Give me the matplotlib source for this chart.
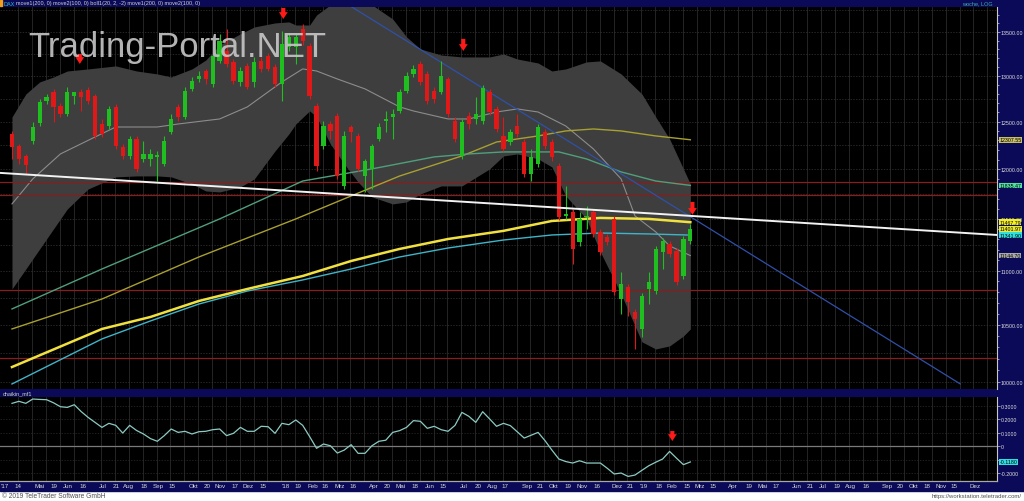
import numpy as np
import matplotlib.pyplot as plt
from matplotlib.patches import Rectangle
from matplotlib.ticker import FixedLocator, FuncFormatter, NullFormatter
from matplotlib.transforms import blended_transform_factory

plt.rcParams['font.family'] = ['Liberation Sans', 'DejaVu Sans']

W = 1024; H = 502

# DAX weekly candles, week 0 = early April 2017
opens = [12369, 12242, 12138, 12295, 12486, 12725, 12823, 12670, 12583, 12779,
         12823, 12845, 12779, 12475, 12454, 12659, 12232, 12138, 12316, 12107,
         12107, 12128, 12055, 12390, 12659, 12551, 12856, 12966, 13055, 12911,
         13168, 13281, 13157, 12933, 13112, 12933, 13168, 13224, 13100, 12911,
         13327, 13327, 13534, 13338, 12670, 12242, 12475, 12562, 11830, 12443,
         12348, 11932, 12004, 12316, 12508, 12551, 12616, 12834, 13022, 13134,
         13022, 12834, 12823, 12966, 12508, 12138, 12562, 12529, 12508, 12823,
         12637, 12348, 12284, 12454, 12284, 11953, 12055, 12390, 12284, 12035,
         11530, 11569, 11275, 11520, 11569, 11373, 11324, 11500, 10737, 10848,
         10618, 10465, 10830, 10811, 11179, 11256, 11189, 10951, 11285]
highs = [12401, 12263, 12159, 12497, 12746, 12801, 12856, 12703, 12878, 12823,
         12856, 12878, 12801, 12529, 12670, 12692, 12263, 12348, 12348, 12295,
         12211, 12190, 12348, 12583, 12692, 12878, 12988, 13055, 13078, 13247,
         13476, 13534, 13190, 13100, 13145, 13213, 13213, 13258, 13134, 13511,
         13488, 13476, 13592, 13373, 12703, 12508, 12508, 12594, 12401, 12465,
         12380, 12107, 12263, 12486, 12616, 12637, 12856, 13045, 13123, 13168,
         13055, 12878, 13168, 12988, 12551, 12529, 12605, 12768, 12900, 12856,
         12670, 12551, 12422, 12583, 12316, 12211, 12475, 12422, 12316, 12066,
         11830, 11599, 11569, 11629, 11599, 11402, 11353, 11530, 10989, 10876,
         10646, 10792, 10989, 11237, 11314, 11285, 11218, 11333, 11451]
lows = [12107, 12055, 11953, 12263, 12454, 12692, 12497, 12551, 12562, 12692,
        12616, 12692, 12316, 12337, 12422, 12211, 12107, 12107, 11973, 12076,
        12035, 11881, 12035, 12369, 12508, 12529, 12834, 12933, 12911, 12878,
        13145, 13100, 12911, 12889, 12856, 12878, 13045, 13055, 12878, 12725,
        13281, 13134, 13350, 12746, 11983, 12211, 12316, 11901, 11799, 12284,
        11983, 11769, 11799, 12295, 12390, 12316, 12594, 12812, 12988, 12900,
        12692, 12703, 12801, 12551, 12284, 12107, 12422, 12475, 12475, 12572,
        12390, 12190, 12253, 12337, 11922, 11881, 12024, 12211, 12086, 11490,
        11500, 11064, 11237, 11402, 11324, 11150, 11246, 10774, 10600, 10582,
        10287, 10394, 10691, 10783, 11017, 11131, 10867, 10923, 11256]
closes = [12232, 12107, 12045, 12443, 12714, 12768, 12659, 12583, 12823, 12823,
          12768, 12725, 12348, 12369, 12637, 12242, 12138, 12316, 12004, 12159,
          12159, 12149, 12295, 12529, 12551, 12834, 12944, 13000, 12966, 13224,
          13396, 13134, 12944, 13055, 12878, 13157, 13078, 13078, 12911, 13361,
          13442, 13442, 13396, 12779, 12035, 12454, 12401, 11932, 12348, 12390,
          12004, 12086, 12242, 12443, 12529, 12583, 12823, 13000, 13078, 12933,
          12725, 12746, 13000, 12583, 12316, 12497, 12475, 12583, 12867, 12605,
          12422, 12211, 12390, 12369, 11953, 12128, 12443, 12242, 12128, 11520,
          11549, 11208, 11500, 11530, 11353, 11179, 11275, 10802, 10876, 10710,
          10555, 10765, 10895, 11208, 11285, 11160, 10895, 11304, 11401.97]

# Bollinger band (20, 2)
band_k = [0, 2, 4, 6, 8, 11, 15, 18, 21, 23, 26, 28, 30, 33, 35, 38, 40, 41, 43, 44, 46,
          48, 50, 52, 55, 57, 59, 62, 65, 69, 71, 73, 76, 78, 80, 83, 85, 88, 91, 93, 95, 97, 98]
band_hi = [12550, 12800, 12933, 12988, 13055, 13078, 13112, 13055, 13022, 12988, 13078,
           13178, 13350, 13477, 13557, 13604, 13616, 13580, 13580, 13697, 13817, 13877,
           13877, 13817, 13650, 13442, 13304, 13235, 13213, 13213, 13247, 13190, 13145,
           13055, 13078, 13157, 13168, 13022, 12800, 12550, 12316, 12004, 11850]
band_lo = [10830, 11017, 11208, 11402, 11599, 11799, 11922, 11932, 11932, 11922, 11850,
           11779, 11769, 11820, 11901, 12190, 12369, 12475, 12616, 12551, 12263, 12055,
           11870, 11719, 11649, 11669, 11749, 11830, 11830, 12004, 12138, 12159, 12107,
           12024, 11729, 11500, 11179, 10783, 10350, 10287, 10314, 10402, 10465]
mid_k = [0, 3, 7, 12, 15, 21, 24, 30, 34, 39, 42, 44, 47, 51, 56, 58, 63, 66, 70, 73,
         76, 80, 84, 88, 90, 93, 95, 98]
mid = [11649, 11901, 12159, 12337, 12443, 12443, 12475, 12529, 12659, 12933, 13078, 13055,
       12966, 12856, 12659, 12615, 12529, 12529, 12604, 12637, 12604, 12454, 12211, 11901,
       11530, 11373, 11237, 11144.70]

# moving averages
ma_k = [0, 13, 20, 27, 34, 42, 49, 56, 63, 71, 78, 85, 92, 98]
ma200 = [10129, 10465, 10573, 10719, 10830, 10951, 11093, 11208, 11304, 11383, 11480, 11510, 11500, 11467.79]
ma100 = [9983, 10376, 10537, 10691, 10811, 10914, 11017, 11131, 11217, 11294, 11343, 11362, 11353, 11341.90]
olive_k = [0, 13, 27, 41, 49, 56, 65, 70, 76, 80, 84, 88, 93, 98]
olive = [10465, 10737, 11131, 11500, 11729, 11931, 12138, 12284, 12348, 12401, 12422, 12401, 12348, 12307.55]
teal_k = [0, 13, 30, 42, 52, 61, 66, 71, 79, 83, 88, 93, 98]
teal = [10646, 11017, 11500, 11880, 12004, 12128, 12159, 12180, 12180, 12107, 11973, 11880, 11835.47]

# trend lines and levels
white_k = [-1.73, 142.3]
white_v = [11963, 11343]
blue_k = [49.1, 137]
blue_v = [13791, 9983]
red_levels = [11870, 11739, 10821, 10208]

# arrows
arrow_k = [9.8, 39.2, 65.2, 98.3]
arrow_tip = [13134, 13650, 13281, 11540]
arrow_tail = [13247, 13780, 13419, 11669]

# Chaikin money flow
cmf = [0.316, 0.331, 0.316, 0.348, 0.345, 0.343, 0.320, 0.291, 0.286, 0.306,
       0.255, 0.212, 0.175, 0.138, 0.168, 0.153, 0.096, 0.153, 0.115, 0.089,
       0.055, 0.035, 0.077, 0.126, 0.101, 0.109, 0.089, 0.106, 0.109, 0.121,
       0.126, 0.077, 0.094, 0.138, 0.109, 0.109, 0.146, 0.143, 0.094, 0.168,
       0.158, 0.193, 0.153, 0.070, -0.017, 0.015, 0.002, -0.052, -0.030, 0.010,
       -0.054, -0.054, 0.002, 0.035, 0.043, 0.101, 0.114, 0.138, 0.188, 0.183,
       0.131, 0.146, 0.121, 0.109, 0.153, 0.249, 0.220, 0.175, 0.254, 0.201,
       0.146, 0.168, 0.151, 0.105, 0.059, 0.080, 0.101, 0.040, -0.030, -0.096,
       -0.115, -0.126, -0.109, -0.126, -0.126, -0.126, -0.165, -0.207, -0.200, -0.225,
       -0.215, -0.180, -0.146, -0.120, -0.096, -0.040, -0.090, -0.138, -0.118]
cmf_arrow = [95.4, 0.037, 0.111]

price_ticks = [10000, 10500, 11000, 11500, 12000, 12500, 13000, 13500]
cmf_ticks = [0.3, 0.2, 0.1, 0, -0.1, -0.2]
price_tags = ['12307.55', '11835.47', '11467.79', '11401.97', '11341.90', '11144.70']
tag_colors = ['#c8c060', '#50e0a0', '#f4f020', '#e8e838', '#30e0e0', '#a8a8a8']

tick_k = [-1.0, 0.9, 4.0, 6.1, 8.1, 10.3, 13.1, 15.0, 16.9, 19.1, 21.1, 23.1, 26.2, 28.2, 30.1,
          32.2, 34.1, 36.3, 39.5, 41.3, 43.5, 45.2, 47.4, 49.3, 52.2, 54.2, 56.1, 58.2, 60.3,
          62.3, 65.2, 67.3, 69.4, 71.2, 74.4, 76.3, 78.2, 80.3, 82.4, 84.5, 87.4, 89.3, 91.3,
          93.4, 95.4, 97.5, 99.4, 101.3, 104.2, 106.4, 108.4, 110.3, 113.4, 115.3, 117.2,
          119.2, 121.2, 123.3, 126.4, 128.3, 130.2, 132.2, 134.2, 136.1, 139.2]
tick_lbl = ["'17", '14', 'Mai', '19', 'Jun', '16', 'Jul', '21', 'Aug', '18', 'Sep', '15',
            'Okt', '20', 'Nov', '17', 'Dez', '15', "'18", '19', 'Feb', '16', 'Mrz', '16',
            'Apr', '20', 'Mai', '18', 'Jun', '15', 'Jul', '20', 'Aug', '17', 'Sep', '21',
            'Okt', '19', 'Nov', '16', 'Dez', '21', "'19", '18', 'Feb', '15', 'Mrz', '15',
            'Apr', '19', 'Mai', '17', 'Jun', '21', 'Jul', '19', 'Aug', '16', 'Sep', '20',
            'Okt', '18', 'Nov', '15', 'Dez']

navy = '#0a0a58'
axcol = '#c8c8c8'
lab_fs = 3.8


def box(x0, y0, x1, y1):
    # pixel box (from top-left) -> figure fraction
    return [x0 / W, 1 - y1 / H, (x1 - x0) / W, (y1 - y0) / H]


fig = plt.figure(figsize=(W / 100, H / 100), dpi=100)
fig.patch.set_facecolor('white')
fig.add_artist(Rectangle((0, 1 - 492 / H), 1, 492 / H, transform=fig.transFigure,
                         color=navy, zorder=-1))

ax = fig.add_axes(box(0, 8, 997, 390))
ax2 = fig.add_axes(box(0, 398, 997, 482))

for a in (ax, ax2):
    a.set_facecolor('black')
    a.set_xlim(-1.73, 142.3)
    for s in ('left', 'top', 'bottom'):
        a.spines[s].set_visible(False)
    a.spines['right'].set_color(axcol)
    a.spines['right'].set_linewidth(0.8)
    for g in np.arange(0.9, 142.3, 2):
        a.axvline(g, color='#2a2a2a', lw=0.6, zorder=0.5)

# ---- main price panel ----
ax.set_yscale('log')
ax.set_ylim(9940, 13791)
for lv in range(10000, 13751, 250):
    ax.axhline(lv, color='#363636', lw=0.5, ls=(0, (2, 2)), zorder=0.5)

ax.fill_between(band_k, band_lo, band_hi, color='#3e3e3e', lw=0, zorder=1)
ax.plot(mid_k, mid, color='#8c8c8c', lw=0.8, zorder=2)
for lv in red_levels:
    ax.axhline(lv, color='#8a1c1c', lw=0.9, zorder=2.5)
ax.plot(olive_k, olive, color='#a8a030', lw=1.0, zorder=3)
ax.plot(teal_k, teal, color='#4f9f7c', lw=1.0, zorder=3)
ax.plot(ma_k, ma100, color='#3fb4c8', lw=1.0, zorder=3)
ax.plot(ma_k, ma200, color='#f0e040', lw=1.8, zorder=3.2)
ax.plot(blue_k, blue_v, color='#3050a8', lw=0.9, zorder=3.4)

o = np.array(opens, dtype=float); c = np.array(closes, dtype=float)
hi = np.array(highs, dtype=float); lo = np.array(lows, dtype=float)
k = np.arange(len(o))
col = np.where(c >= o, '#1fbf1f', '#e01818')
ax.vlines(k, lo, hi, colors=col, lw=0.8, zorder=4)
ax.bar(k, np.maximum(np.abs(c - o), 12), bottom=np.minimum(o, c), width=0.62,
       color=col, lw=0, zorder=5)

ax.plot(white_k, white_v, color='#f2f2f2', lw=1.4, zorder=7)

arrow_style = 'simple,head_width=0.9,head_length=0.7,tail_width=0.42'
for ak, tip, tail in zip(arrow_k, arrow_tip, arrow_tail):
    ax.annotate('', xy=(ak, tip), xytext=(ak, tail), annotation_clip=False, zorder=9,
                arrowprops=dict(arrowstyle=arrow_style, fc='#ff1a1a', ec='none',
                                mutation_scale=7, shrinkA=0, shrinkB=0))

ax.yaxis.tick_right()
ax.yaxis.set_major_locator(FixedLocator(price_ticks))
ax.yaxis.set_minor_locator(FixedLocator(list(range(10000, 13800, 100))))
ax.yaxis.set_major_formatter(FuncFormatter(lambda v, p: f'{v:.2f}'))
ax.yaxis.set_minor_formatter(NullFormatter())
ax.tick_params(axis='y', which='both', colors=axcol, labelcolor='#e0e0e0',
               labelsize=lab_fs, width=0.5, pad=0.8)
ax.tick_params(axis='y', which='major', length=2)
ax.tick_params(axis='y', which='minor', length=1.2)
ax.tick_params(axis='x', bottom=False, labelbottom=False)

tr = blended_transform_factory(ax.transAxes, ax.transData)
for s, cl in zip(price_tags, tag_colors):
    ax.text(1.0025, float(s), s, transform=tr, fontsize=lab_fs, color='black',
            va='center', ha='left', zorder=10, clip_on=False,
            bbox=dict(boxstyle='square,pad=0.05', fc=cl, ec='none'))

# ---- Chaikin money flow panel ----
ax2.set_ylim(-0.259, 0.363)
for lv in cmf_ticks:
    if lv != 0:
        ax2.axhline(lv, color='#2c2c2c', lw=0.5, ls=(0, (2, 2)), zorder=0.5)
ax2.axhline(0, color='#7a7a7a', lw=0.9, zorder=1)
ax2.plot(k, cmf, color='#8ccac2', lw=0.9, zorder=3)
ax2.annotate('', xy=(cmf_arrow[0], cmf_arrow[1]), xytext=(cmf_arrow[0], cmf_arrow[2]),
             annotation_clip=False, zorder=9,
             arrowprops=dict(arrowstyle=arrow_style, fc='#ff1a1a', ec='none',
                             mutation_scale=7, shrinkA=0, shrinkB=0))


def cmf_fmt(v, p):
    if abs(v) < 1e-9:
        return '0'
    if abs(v + 0.1) < 1e-9:
        return ''  # hidden behind the last-value tag
    return f'{v:.4f}'


ax2.yaxis.tick_right()
ax2.yaxis.set_major_locator(FixedLocator(cmf_ticks))
ax2.yaxis.set_major_formatter(FuncFormatter(cmf_fmt))
ax2.tick_params(axis='y', colors=axcol, labelcolor='#e0e0e0', labelsize=lab_fs,
                width=0.5, length=2, pad=0.8)
ax2.spines['bottom'].set_visible(True)
ax2.spines['bottom'].set_color('#a8a8a8')
ax2.spines['bottom'].set_linewidth(0.9)
ax2.set_xticks(tick_k)
ax2.set_xticklabels(tick_lbl)
ax2.tick_params(axis='x', length=0, pad=1.8, labelsize=4.5, labelcolor='#d8d8d8')

tr2 = blended_transform_factory(ax2.transAxes, ax2.transData)
ax2.text(1.0025, cmf[-1], f'{cmf[-1]:.4f}', transform=tr2, fontsize=lab_fs, color='black',
         va='center', ha='left', zorder=10, clip_on=False,
         bbox=dict(boxstyle='square,pad=0.12', fc='#30e0e0', ec='none'))

# ---- header, titles, footer ----
fig.add_artist(Rectangle((0, 1 - 7 / H), 2 / W, 6 / H, transform=fig.transFigure,
                         color='#f0a020'))
fig.text(3 / W, 1 - 4 / H, 'DAX', color='#30c0c0', fontsize=4, va='center')
fig.text(16 / W, 1 - 4 / H,
         'move1(200, 0) move2(100, 0) boll1(20, 2, -2) move1(200, 0) move2(100, 0)',
         color='#d0d0d0', fontsize=4, va='center')
fig.text(993 / W, 1 - 4 / H, 'woche, LOG', color='#40b0b0', fontsize=4,
         va='center', ha='right')
fig.text(3 / W, 1 - 394 / H, 'chaikin_mf1', color='#d0d0d0', fontsize=4, va='center')
fig.text(28 / W, 1 - 57 / H, 'Trading-Portal.NET', color='#c4c4c4', alpha=0.92,
         fontsize=25, va='baseline', ha='left', zorder=20)
fig.text(2 / W, 1 - 497 / H, '\u00a9 2019 TeleTrader Software GmbH', color='#505050',
         fontsize=4.8, va='center')
fig.text(1022 / W, 1 - 497 / H, 'https://workstation.teletrader.com/', color='#505050',
         fontsize=4.3, va='center', ha='right')

fig.savefig('out.png', dpi=100, facecolor=fig.get_facecolor())
